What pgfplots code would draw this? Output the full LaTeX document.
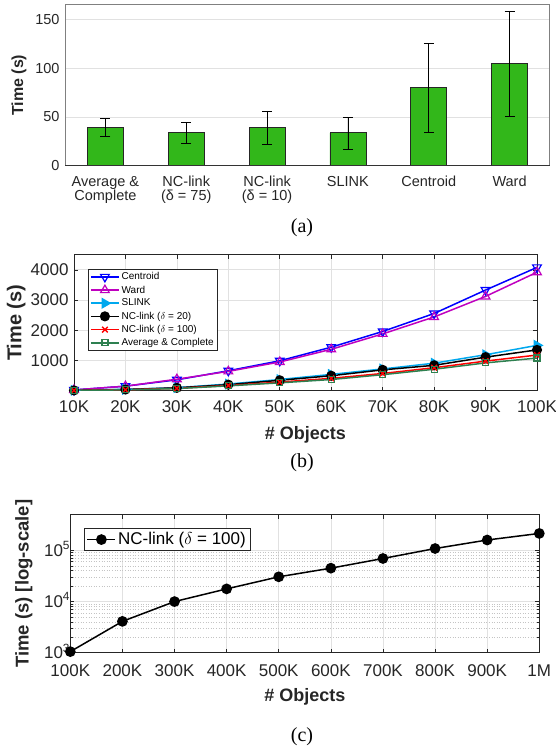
\documentclass[border=0pt]{standalone}
\usepackage{fontspec}
\setmainfont{Liberation Sans}
\newfontfamily\capfont{Liberation Serif}
\usepackage{pgfplots}
\pgfplotsset{compat=1.18}
\definecolor{bargreen}{RGB}{50,183,26}
\definecolor{axgray}{RGB}{38,38,38}
\definecolor{gridgray}{RGB}{225,225,225}
\definecolor{mcent}{RGB}{0,0,255}
\definecolor{mward}{RGB}{191,0,191}
\definecolor{mslink}{RGB}{0,168,238}
\definecolor{mavg}{RGB}{46,128,80}
\newcommand{\fs}[1]{\fontsize{#1}{#1}\selectfont}
\pgfplotsset{
  matlab/.style={
    scale only axis,
    /pgf/number format/assume math mode=true,
    /pgf/number format/1000 sep={},
    axis line style={axgray, line width=0.8pt},
    tick style={axgray, line width=0.6pt},
    tick align=inside,
    major tick length=4pt,
    grid style={gridgray, line width=0.7pt},
  },
  longlegend/.style={
    legend image code/.code={\draw[mark repeat=2,mark phase=2,##1] plot coordinates {(0pt,0pt) (14pt,0pt) (28pt,0pt)};}
  }
}
\begin{document}
\begin{tikzpicture}
\useasboundingbox (0pt,0pt) rectangle (556pt,-746pt);
% ---------------- (a)
\begin{axis}[matlab,
  at={(65pt,-165.7pt)}, anchor=south west,
  width=485pt, height=161pt,
  xmin=-0.5, xmax=5.5, ymin=0, ymax=165,
  xtick={0,...,5},
  xticklabels={{Average \&\\Complete},{NC-link\\(δ = 75)},{NC-link\\(δ = 10)},SLINK,Centroid,Ward},
  xticklabel style={align=center, font=\fontsize{14.5}{14}\selectfont, text=axgray, anchor=north, yshift=-7pt},
  ytick={0,50,100,150},
  yticklabel style={font=\fs{14.5}, text=axgray, xshift=-2pt},
  major tick length=0pt,
  ymajorgrids,
  axis line style={black!50, line width=1pt},
  ylabel={\bfseries Time (s)},
  ylabel style={font=\fs{16}, text=axgray, at={(axis description cs:-0.095,0.5)}, anchor=center},
]
\addplot[ybar, bar width=36pt, fill=bargreen, draw=black!85, line width=0.8pt,
  error bars/.cd, y dir=both, y explicit,
  error bar style={black, line width=0.8pt},
  error mark options={rotate=90, mark size=5pt, black, line width=0.8pt}]
 coordinates {
 (0,39.2) += (0,9.2) -= (0,9.2)
 (1,33.7) += (0,10.6) -= (0,10.8)
 (2,39.2) += (0,16.9) -= (0,17.4)
 (3,33.7) += (0,16.3) -= (0,17.0)
 (4,80.0) += (0,45.5) -= (0,46.0)
 (5,104.8) += (0,53.8) -= (0,54.1)
 };
\addplot[black!80, line width=1.4pt, forget plot] coordinates {(-0.5,0) (5.5,0)};
\end{axis}
\node[font=\capfont\fs{20}] at (302pt,-228pt) {(a)};
% ---------------- (b)
\begin{axis}[matlab, longlegend,
  at={(74pt,-390.7pt)}, anchor=south west,
  width=463pt, height=136pt,
  xmin=10, xmax=100, ymin=0, ymax=4500,
  xtick={10,20,...,100},
  xticklabels={10K,20K,30K,40K,50K,60K,70K,80K,90K,100K},
  ytick={1000,2000,3000,4000},
  xticklabel style={font=\fs{17}, text=axgray, yshift=-6pt},
  yticklabel style={font=\fs{17}, text=axgray, xshift=-2pt},
  xmajorgrids, ymajorgrids,
  ylabel={\bfseries Time (s)},
  ylabel style={font=\fs{20}, text=axgray, at={(axis description cs:-0.125,0.5)}, anchor=center},
  xlabel={\bfseries \# Objects},
  xlabel style={font=\fs{18}, text=axgray, at={(axis description cs:0.5,-0.326)}, anchor=center},
  legend style={at={(0.031,0.897)}, anchor=north west, font=\fs{10}, draw=axgray,
    line width=0.6pt, inner sep=1.5pt, row sep=0.5pt, cells={anchor=west},
    nodes={inner xsep=2pt}},
]
\addplot[mcent, line width=1.5pt, mark=triangle, mark size=5pt, mark options={rotate=180, line width=1.2pt}]
 coordinates {(10,25)(20,150)(30,360)(40,660)(50,990)(60,1440)(70,1960)(80,2555)(90,3330)(100,4080)};
\addlegendentry{Centroid}
\addplot[mward, line width=1.5pt, mark=triangle, mark size=5pt, mark options={line width=1.2pt}]
 coordinates {(10,25)(20,150)(30,380)(40,640)(50,950)(60,1370)(70,1880)(80,2440)(90,3120)(100,3920)};
\addlegendentry{Ward}
\addplot[mslink, line width=1.5pt, mark=triangle*, mark size=5pt, mark options={rotate=-90}]
 coordinates {(10,12)(20,45)(30,100)(40,220)(50,370)(60,540)(70,720)(80,910)(90,1190)(100,1500)};
\addlegendentry{SLINK}
\addplot[black, line width=1.5pt, mark=*, mark size=4.3pt]
 coordinates {(10,10)(20,40)(30,95)(40,200)(50,345)(60,495)(70,690)(80,840)(90,1110)(100,1350)};
\addlegendentry{NC-link ($\delta$ = 20)}
\addplot[red, line width=1.5pt, mark=x, mark size=4pt, mark options={line width=1.4pt}]
 coordinates {(10,8)(20,30)(30,80)(40,170)(50,285)(60,410)(70,570)(80,760)(90,980)(100,1180)};
\addlegendentry{NC-link ($\delta$ = 100)}
\addplot[mavg, line width=1.5pt, mark=square, mark size=3pt, mark options={line width=1.2pt}]
 coordinates {(10,8)(20,28)(30,70)(40,160)(50,260)(60,370)(70,530)(80,710)(90,920)(100,1080)};
\addlegendentry{Average \& Complete}
\end{axis}
\node[font=\capfont\fs{20}] at (302pt,-463pt) {(b)};
% ---------------- (c)
\begin{axis}[matlab, longlegend,
  at={(70.3pt,-652.7pt)}, anchor=south west,
  width=469pt, height=138pt,
  xmin=100, xmax=1000, ymode=log, ymin=1000, ymax=500000,
  xtick={100,200,...,1000},
  xticklabels={100K,200K,300K,400K,500K,600K,700K,800K,900K,1M},
  ytick={1000,10000,100000},
  yticklabels={10\textsuperscript{3},10\textsuperscript{4},10\textsuperscript{5}},
  xticklabel style={font=\fs{17}, text=axgray, yshift=-11pt, inner sep=1pt},
  yticklabel style={font=\fs{17}, text=axgray, yshift=1.5pt, xshift=1pt, inner sep=1pt},
  minor tick length=2.5pt,
  xmajorgrids, ymajorgrids, yminorgrids,
  minor grid style={gridgray!70!gray, line width=0.6pt, dotted},
  ylabel={\bfseries Time (s) [log-scale]},
  ylabel style={font=\fs{18.5}, text=axgray, at={(axis description cs:-0.099,0.5)}, anchor=center},
  xlabel={\bfseries \# Objects},
  xlabel style={font=\fs{18}, text=axgray, at={(axis description cs:0.5,-0.319)}, anchor=center},
  legend style={at={(0.03,0.901)}, anchor=north west, font=\fs{17}, draw=axgray,
    line width=0.6pt, inner sep=2pt, cells={anchor=west}},
]
\addplot[black, line width=1.5pt, mark=*, mark size=4.6pt]
 coordinates {(100,1050)(200,4100)(300,10000)(400,17700)(500,30500)(600,45000)(700,69600)(800,109000)(900,160000)(1000,215000)};
\addlegendentry{NC-link ($\delta$ = 100)}
\end{axis}
\node[font=\capfont\fs{20}] at (302pt,-737pt) {(c)};
\end{tikzpicture}
\end{document}
